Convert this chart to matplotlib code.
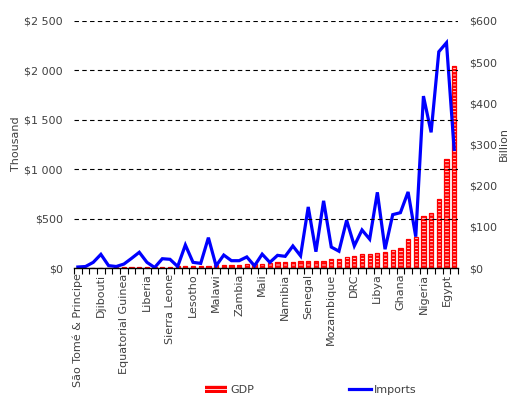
import numpy as np
import matplotlib
matplotlib.use("Agg")
import matplotlib.pyplot as plt
from matplotlib.lines import Line2D
from matplotlib.patches import Patch

# Country labels shown on the axis (every third country in GDP order)
labels = ["São Tomé & Principe", "Djibouti", "Equatorial Guinea", "Liberia",
          "Sierra Leone", "Lesotho", "Malawi", "Zambia", "Mali", "Namibia",
          "Senegal", "Mozambique", "DRC", "Libya", "Ghana", "Nigeria", "Egypt"]

# Imports (thousand, left axis)
imports = [10, 15, 57, 138, 24, 15, 40, 98, 159, 57,
           5, 94, 88, 15, 233, 57, 47, 307, 22, 131,
           74, 74, 112, 22, 140, 57, 128, 118, 223, 123,
           618, 165, 680, 212, 170, 483, 224, 385, 292, 766,
           190, 540, 560, 770, 317, 1740, 1373, 2189, 2280, 1200]

# GDP (billion, right axis)
gdp = [0.3, 0.5, 0.8, 1.0, 1.2, 1.5, 2.0, 2.3, 2.5, 2.8,
       3.0, 3.3, 3.5, 4.0, 4.5, 5.0, 5.5, 6.0, 6.5, 7.5,
       8.0, 8.5, 9.0, 9.5, 10.5, 11, 13.5, 14, 15.5, 17,
       17, 17.5, 17.5, 21, 22, 26.5, 29, 34, 34.5, 36,
       39.5, 44, 48.5, 70, 75, 126, 134, 168, 264, 491]

plt.rcParams["font.family"] = ["DejaVu Sans"]
plt.rcParams["hatch.linewidth"] = 0.6

W, H = 511, 398
fig = plt.figure(figsize=(W / 100, H / 100), dpi=100)
ax = fig.add_axes([74 / W, 1 - 268 / H, (458 - 74) / W, (268 - 21) / H])
ax2 = ax.twinx()
ax.set_zorder(ax2.get_zorder() + 1)
ax.patch.set_visible(False)

x = np.arange(len(gdp))
red = "#FF0000"
blue = "#0000FF"
text_col = "#404040"

# GDP bars: red fill with white dash pattern, red outline
ax2.bar(x, gdp, width=0.55, color=red, edgecolor="white", linewidth=0, hatch="-----")
ax2.bar(x, gdp, width=0.55, fill=False, edgecolor=red, linewidth=0.9)

# Imports line
ax.plot(x, imports, color=blue, lw=2.3, solid_joinstyle="miter")

# X axis
ax.set_xlim(-0.5, len(gdp) - 0.5)
ax.set_xticks(np.arange(0, len(gdp), 3))
ax.set_xticklabels(labels, rotation=90, fontsize=8, color=text_col)
ax.set_xticks(np.arange(-0.5, len(gdp), 1), minor=True)
ax.tick_params(axis="x", which="major", length=0, pad=4)
ax.tick_params(axis="x", which="minor", length=4, width=0.8, color="black", direction="out")

# Left axis (thousand)
ax.set_ylim(0, 2500)
lt = np.arange(0, 2501, 500)
ax.set_yticks(lt)
ax.set_yticklabels([("$" + f"{v:,.0f}").replace(",", " ") for v in lt], fontsize=8, color=text_col)
ax.tick_params(axis="y", length=0, pad=8)
ax.yaxis.grid(True, color="black", linestyle=(0, (4, 3)), linewidth=0.8)
ax.set_axisbelow(False)

# Right axis (billion)
ax2.set_ylim(0, 600)
rt = np.arange(0, 601, 100)
ax2.set_yticks(rt)
ax2.set_yticklabels([f"${v}" for v in rt], fontsize=8, color=text_col)
ax2.tick_params(axis="y", length=0, pad=8)

# Axis titles
fig.text(16 / W, 1 - 144 / H, "Thousand", rotation=90, ha="center", va="center",
         fontsize=8, color=text_col)
fig.text(504 / W, 1 - 144 / H, "Billion", rotation=90, ha="center", va="center",
         fontsize=8, color=text_col)

for s in ["top", "left", "right"]:
    ax.spines[s].set_visible(False)
for s in ax2.spines.values():
    s.set_visible(False)
ax.spines["bottom"].set_color("black")
ax.spines["bottom"].set_linewidth(1.0)

handles = [Patch(facecolor=red, edgecolor="white", linewidth=0, hatch="----"),
           Line2D([], [], color=blue, lw=2.3)]
fig.legend(handles, ["GDP", "Imports"], loc="center", bbox_to_anchor=(0.608, 8 / H),
           ncol=2, frameon=False, fontsize=8, columnspacing=8.5, handlelength=2.0,
           handletextpad=0.3, labelcolor=text_col)

fig.savefig("out.png", dpi=100)
